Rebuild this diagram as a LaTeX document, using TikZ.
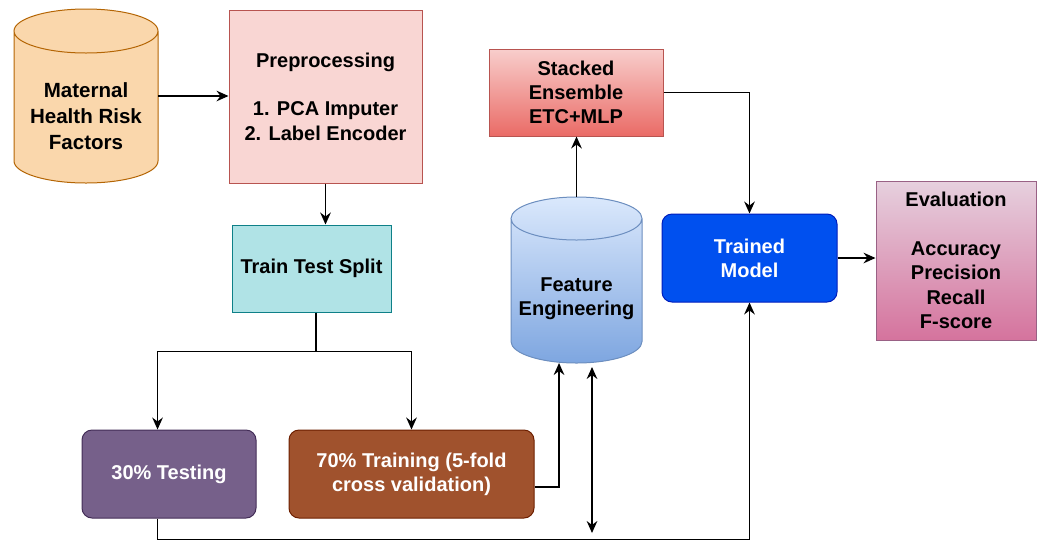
\documentclass[tikz,border=0pt]{standalone}
\usepackage{fontspec}
\setmainfont{Liberation Sans}
\usetikzlibrary{arrows.meta,calc}

\definecolor{mhrfFill}{HTML}{FAD7AC}
\definecolor{mhrfLine}{HTML}{B46504}
\definecolor{prepFill}{HTML}{F9D6D3}
\definecolor{redLine}{HTML}{B85450}
\definecolor{ttsFill}{HTML}{B0E3E6}
\definecolor{ttsLine}{HTML}{0E8088}
\definecolor{seTop}{HTML}{F8CECC}
\definecolor{seBot}{HTML}{EA6B66}
\definecolor{feTop}{HTML}{DAE8FC}
\definecolor{feBot}{HTML}{7EA6E0}
\definecolor{feLine}{HTML}{6C8EBF}
\definecolor{tmFill}{HTML}{0050EF}
\definecolor{tmLine}{HTML}{001DBC}
\definecolor{evTop}{HTML}{E6D0DE}
\definecolor{evBot}{HTML}{D5739D}
\definecolor{evLine}{HTML}{996185}
\definecolor{testFill}{HTML}{76608A}
\definecolor{testLine}{HTML}{432D57}
\definecolor{trainFill}{HTML}{A0522D}
\definecolor{trainLine}{HTML}{6D1F00}

% cylinder outline built on the bounding rectangle of a named node
% #1 node, #2 x radius, #3 y radius, #4 fill options, #5 stroke colour
\newcommand\cylfig[5]{%
  \path[#4] ([yshift=-#3]#1.north west) -- ([yshift=#3]#1.south west)
    arc[start angle=180,end angle=360,x radius=#2,y radius=#3]
    -- ([yshift=-#3]#1.north east)
    arc[start angle=0,end angle=180,x radius=#2,y radius=#3] -- cycle;
  \draw[#5,line width=0.75pt] ([yshift=-#3]#1.north west) -- ([yshift=#3]#1.south west)
    arc[start angle=180,end angle=360,x radius=#2,y radius=#3]
    -- ([yshift=-#3]#1.north east)
    arc[start angle=0,end angle=360,x radius=#2,y radius=#3];
}

\tikzset{
  lbl/.style={font=\bfseries\fontsize{15}{18.2}\selectfont, align=center, inner sep=0pt},
  cyllbl/.style={font=\bfseries\fontsize{15.4}{19.4}\selectfont, align=center, inner sep=0pt},
  box/.style={lbl, draw, line width=0.75pt},
  shapearea/.style={inner sep=0pt, outer sep=0pt},
  arr/.style={-{Stealth[length=9pt,width=8pt,inset=3pt]}, line width=1pt},
  dblarr/.style={{Stealth[length=9pt,width=8pt,inset=3pt]}-{Stealth[length=9pt,width=8pt,inset=3pt]}, line width=1pt},
}

\begin{document}
\begin{tikzpicture}[x=0.75pt,y=-0.75pt]
\useasboundingbox (0,0) rectangle (1042,540);

% data source cylinder
\node[shapearea, minimum width=108pt, minimum height=130.5pt] (mhrf) at (86,96) {};
\cylfig{mhrf}{54pt}{16.5pt}{fill=mhrfFill}{mhrfLine}
\node[cyllbl] (mhrflbl) at (86,116) {Maternal\\Health Risk\\Factors};

% preprocessing
\node[box, fill=prepFill, draw=redLine, minimum width=144.75pt, minimum height=129.75pt]
  (prep) at (325.5,96.5) {Preprocessing\\~\\1. PCA Imputer\\2. Label Encoder};

% split
\node[box, fill=ttsFill, draw=ttsLine, minimum width=119.25pt, minimum height=65.25pt]
  (tts) at (311.5,268.5) {Train Test Split};

% stacked ensemble
\node[box, top color=seTop, bottom color=seBot, draw=redLine, minimum width=130.5pt, minimum height=65.25pt]
  (se) at (576,92.5) {Stacked\\Ensemble\\ETC+MLP};

% feature engineering cylinder
\node[shapearea, minimum width=98.25pt, minimum height=124.5pt] (fe) at (576.5,280) {};
\cylfig{fe}{49.125pt}{16.125pt}{top color=feTop, bottom color=feBot}{feLine}
\node[lbl] (felbl) at (576.5,299) {Feature\\Engineering};

% trained model
\node[box, fill=tmFill, draw=tmLine, text=white, rounded corners=7.5pt, minimum width=131.25pt, minimum height=66pt]
  (tm) at (749.5,258) {Trained\\Model};

% evaluation
\node[box, top color=evTop, bottom color=evBot, draw=evLine, minimum width=120pt, minimum height=119.25pt]
  (ev) at (956,260.5) {Evaluation\\~\\Accuracy\\Precision\\Recall\\F-score};

% test / train partitions
\node[box, fill=testFill, draw=testLine, text=white, rounded corners=7.5pt, minimum width=130.5pt, minimum height=66pt]
  (test) at (169,474) {30\% Testing};
\node[box, fill=trainFill, draw=trainLine, text=white, rounded corners=7.5pt, minimum width=183.75pt, minimum height=66pt]
  (train) at (411.5,474) {70\% Training (5-fold\\cross validation)};

% connectors
\draw[arr] (mhrf.east) -- (mhrf.east -| prep.west);
\draw[arr] (prep.south) -- (prep.south |- tts.north);
\draw[arr] ([xshift=3.4pt]tts.south) -- ++(0,39) -| ([xshift=-8.6pt]test.north);
\draw[arr] ([xshift=3.4pt]tts.south) -- ++(0,39) -| (train.north);
\draw[arr] ([yshift=-9.75pt]train.east) -| ([xshift=-13.1pt]fe.south);
\coordinate (cvtop) at (592,367);
\coordinate (cvbot) at (592,533);
\draw[dblarr] (cvtop) -- (cvbot);
\draw[arr] (fe.north) -- (fe.north |- se.south);
\draw[arr] (se.east) -| (tm.north);
\draw[arr] (tm.east) -- (tm.east -| ev.west);
\draw[arr] ([xshift=-8.6pt]test.south) -- ++(0,21) -| (tm.south);
\end{tikzpicture}
\end{document}
